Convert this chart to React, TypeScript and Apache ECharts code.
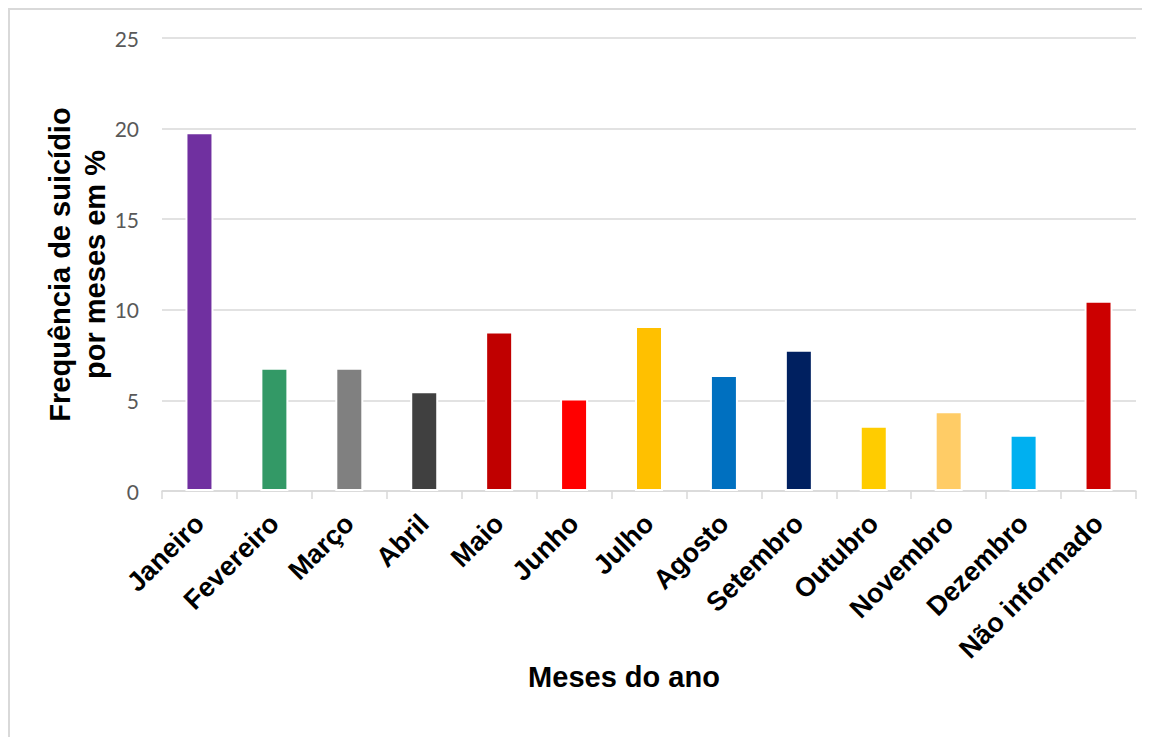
import React, { useEffect, useRef } from "react";
import * as echarts from "echarts";

const months = [
  "Janeiro",
  "Fevereiro",
  "Março",
  "Abril",
  "Maio",
  "Junho",
  "Julho",
  "Agosto",
  "Setembro",
  "Outubro",
  "Novembro",
  "Dezembro",
  "Não informado",
];

const frequency = [19.8, 6.8, 6.8, 5.5, 8.8, 5.1, 9.1, 6.4, 7.8, 3.6, 4.4, 3.1, 10.5];

const barColors = [
  "#7030A0",
  "#339966",
  "#808080",
  "#404040",
  "#C00000",
  "#FF0000",
  "#FFC000",
  "#0070C0",
  "#002060",
  "#FFCC00",
  "#FFCC66",
  "#00B0F0",
  "#CC0000",
];

const yTicks = [0, 5, 10, 15, 20, 25];

const boldFont = "Liberation Sans, Arial, sans-serif";

export default function App() {
  const ref = useRef<HTMLDivElement>(null);

  useEffect(() => {
    if (!ref.current) return;
    const chart = echarts.init(ref.current, null, { renderer: "svg" });
    chart.setOption({
      animation: false,
      backgroundColor: "#ffffff",
      grid: { left: 152, right: 14, top: 28, bottom: 246, containLabel: false },
      xAxis: {
        type: "category",
        data: months,
        name: "Meses do ano",
        nameLocation: "middle",
        nameMoveOverlap: false,
        nameGap: 169,
        nameTextStyle: {
          fontFamily: boldFont,
          fontWeight: "bold",
          fontSize: 29,
          lineHeight: 34,
          color: "#000000",
          padding: [0, 50, 0, 0],
        },
        axisLine: { show: true, lineStyle: { color: "#d9d9d9", width: 1.5 } },
        axisTick: {
          show: true,
          alignWithLabel: false,
          length: 8,
          lineStyle: { color: "#d9d9d9", width: 1.5 },
        },
        axisLabel: {
          interval: 0,
          rotate: 45,
          margin: 28,
          fontFamily: boldFont,
          fontWeight: "bold",
          fontSize: 27,
          color: "#000000",
        },
      },
      yAxis: {
        type: "value",
        min: yTicks[0],
        max: yTicks[yTicks.length - 1],
        interval: 5,
        name: "Frequência de suicídio\npor meses em %",
        nameLocation: "middle",
        nameMoveOverlap: false,
        nameRotate: 90,
        nameGap: 50,
        nameTextStyle: {
          fontFamily: boldFont,
          fontWeight: "bold",
          fontSize: 29,
          lineHeight: 35,
          color: "#000000",
        },
        axisLine: { show: false },
        axisTick: { show: false },
        axisLabel: {
          margin: 23,
          fontFamily: "Lato, sans-serif",
          fontSize: 21,
          color: "#595959",
        },
        splitLine: { show: true, lineStyle: { color: "#d9d9d9", width: 1.5 } },
      },
      series: [
        {
          type: "bar",
          barWidth: 28,
          data: frequency.map((v, i) => ({
            value: v,
            itemStyle: { color: barColors[i], borderColor: "#ffffff", borderWidth: 2 },
          })),
        },
      ],
    });
    return () => chart.dispose();
  }, []);

  return (
    <div
      style={{
        width: 1142,
        height: 729,
        boxSizing: "border-box",
        borderTop: "2px solid #d9d9d9",
        borderLeft: "2px solid #d9d9d9",
        overflow: "hidden",
      }}
    >
      <div ref={ref} style={{ width: 1140, height: 727 }} />
    </div>
  );
}
